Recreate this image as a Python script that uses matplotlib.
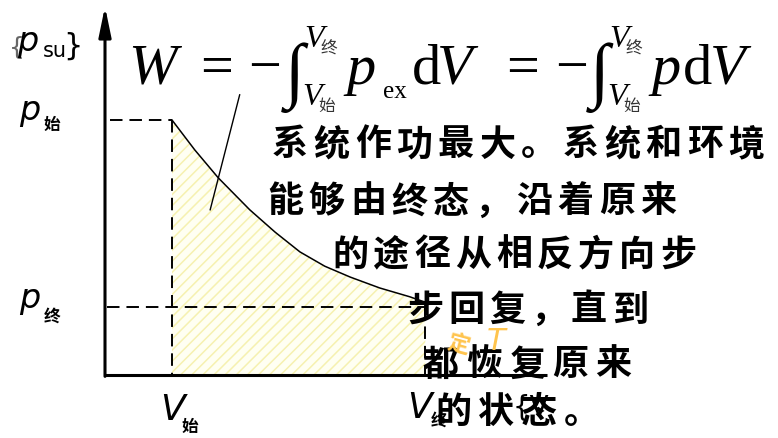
import matplotlib
matplotlib.use("Agg")
import matplotlib.pyplot as plt

plt.rcParams['lines.scale_dashes'] = False
plt.rcParams['hatch.linewidth'] = 1.1
plt.rcParams['hatch.color'] = '#f6f1b0'

# initial / final state (arbitrary units, origin at the corner of the axes)
V_start, V_end = 1.0, 4.78
p_start, p_end = 3.75, 1.0

# reversible expansion curve p(V)
curve_V = [1.00, 1.34, 1.69, 2.16, 2.54, 2.91, 3.28, 3.66, 4.10, 4.55, 4.78]
curve_p = [3.75, 3.31, 2.90, 2.43, 2.10, 1.81, 1.60, 1.44, 1.28, 1.15, 1.07]

# text beside the diagram
note_lines = ["系统作功最大。系统和环境",
              "能够由终态，沿着原来",
              "的途径从相反方向步",
              "步回复，直到",
              "都恢复原来",
              "的状态。"]

W, H = 778, 438
ox, oy = 105, 375      # pixel position of the origin
sx, sy = 67, 68        # pixels per unit of V and p

fig = plt.figure(figsize=(W / 100, H / 100), dpi=100)
ax = fig.add_axes([0, 0, 1, 1])
ax.set_xlim(-ox / sx, (W - ox) / sx)
ax.set_ylim((oy - H) / sy, oy / sy)
ax.axis('off')


def ftext(x, y, s, **kw):
    # place text by pixel position (from the top left corner)
    return fig.text(x / W, 1 - y / H, s, **kw)


# shaded work area under the curve
ax.fill_between(curve_V, curve_p, 0, facecolor='#fffff2', hatch='///',
                edgecolor='#f6f1b0', linewidth=0, zorder=1)
ax.plot(curve_V, curve_p, color='black', lw=1.1, zorder=3)

# axes with arrow on p
ax.plot([0, 6.6], [0, 0], color='black', lw=2.2, solid_capstyle='butt', zorder=4)
ax.annotate('', xy=(0, 5.42), xytext=(0, -0.02),
            arrowprops=dict(arrowstyle='-|>,head_length=1.8,head_width=0.37',
                            lw=2.2, color='black', shrinkA=0, shrinkB=0), zorder=4)

# dashed guides for the two states
dash = dict(color='black', lw=1.4, dashes=(9, 5), zorder=2)
ax.plot([0.07, V_start], [p_start, p_start], **dash)
ax.plot([V_start, V_start], [p_start, 0], **dash)
ax.plot([0.03, V_end], [p_end, p_end], **dash)
ax.plot([V_end, V_end], [p_end, 0], **dash)

# pointer from the area to the formula
ax.plot([1.57, 2.01], [2.43, 4.12], color='black', lw=1.0, zorder=3)

# axis labels
lab = dict(family=['DejaVu Sans'], style='italic', color='black')
sub = dict(family=['Noto Sans CJK SC'], weight='heavy', fontsize=12, color='black')
ftext(19, 120, 'p', fontsize=24, va='baseline', **lab)
ftext(44, 130, '始', va='baseline', **sub)
ftext(19, 308, 'p', fontsize=24, va='baseline', **lab)
ftext(44, 322, '终', va='baseline', **sub)
ftext(160, 420, 'V', fontsize=26, va='baseline', **lab)
ftext(182, 432, '始', va='baseline', **sub)
ftext(407, 418, 'V', fontsize=26, va='baseline', **lab)
ftext(431, 426, '终', va='baseline', **sub)
ftext(9, 55, '{', fontsize=18, va='baseline', color='#666666', family=['DejaVu Sans'])
ftext(17, 51, 'p', fontsize=24, va='baseline', **lab)
ftext(43, 57, 'su', fontsize=15, va='baseline', color='black', family=['DejaVu Sans'])
ftext(63, 55, '}', fontsize=22, va='baseline', color='black', family=['DejaVu Sans'])

# the work formula
it = dict(family=['Liberation Serif'], style='italic', color='black', va='baseline')
rm = dict(family=['Liberation Serif'], color='black', va='baseline')
cjk = dict(family=['Noto Sans CJK SC'], color='#333333', va='baseline', fontsize=12)
base = 84
ftext(128, base, 'W', fontsize=42, **it)
for x0 in (200, 506):
    ftext(x0, base, '=', fontsize=42, **rm)
for x0, xi in ((248, 285), (555, 590)):
    ftext(x0, base, '−', fontsize=42, **rm)
    ftext(xi, base + 10, '∫', fontsize=52, **rm)
    ftext(xi + 19, 47, 'V', fontsize=23, **it)
    ftext(xi + 35, 54, '终', **cjk)
    ftext(xi + 17, 105, 'V', fontsize=23, **it)
    ftext(xi + 33, 111, '始', **cjk)
ftext(346, base, 'p', fontsize=42, **it)
ftext(383, 98, 'ex', fontsize=18, **rm)
ftext(412, base, 'd', fontsize=42, **rm)
ftext(437, base, 'V', fontsize=42, **it)
ftext(651, base, 'p', fontsize=42, **it)
ftext(683, base, 'd', fontsize=42, **rm)
ftext(710, base, 'V', fontsize=42, **it)

# explanatory text, one character at a time
starts = [(290, 145, 41.5), (285, 202, 41.5), (350, 255, 41),
          (425, 310, 41), (441, 365, 43), (453, 412, 43)]
for line, (x0, y0, step) in zip(note_lines, starts):
    for i, ch in enumerate(line):
        ftext(x0 + i * step, y0, ch, fontsize=26, ha='center', va='center',
              family=['Noto Sans CJK SC'], weight='heavy', color='black', zorder=5)

ftext(513, 408, '{V', fontsize=20, va='center', color='black',
      family=['DejaVu Sans'], zorder=5)

# isothermal mark
ftext(458, 344, '定', fontsize=16, ha='center', va='center', rotation=-15,
      family=['Noto Sans CJK SC'], weight='heavy', color='#ffc44d', zorder=6)
ftext(496, 341, 'T', fontsize=22, ha='center', va='center', style='italic',
      family=['DejaVu Sans'], color='#ffc44d', zorder=6)

fig.savefig('out.png', dpi=100)
